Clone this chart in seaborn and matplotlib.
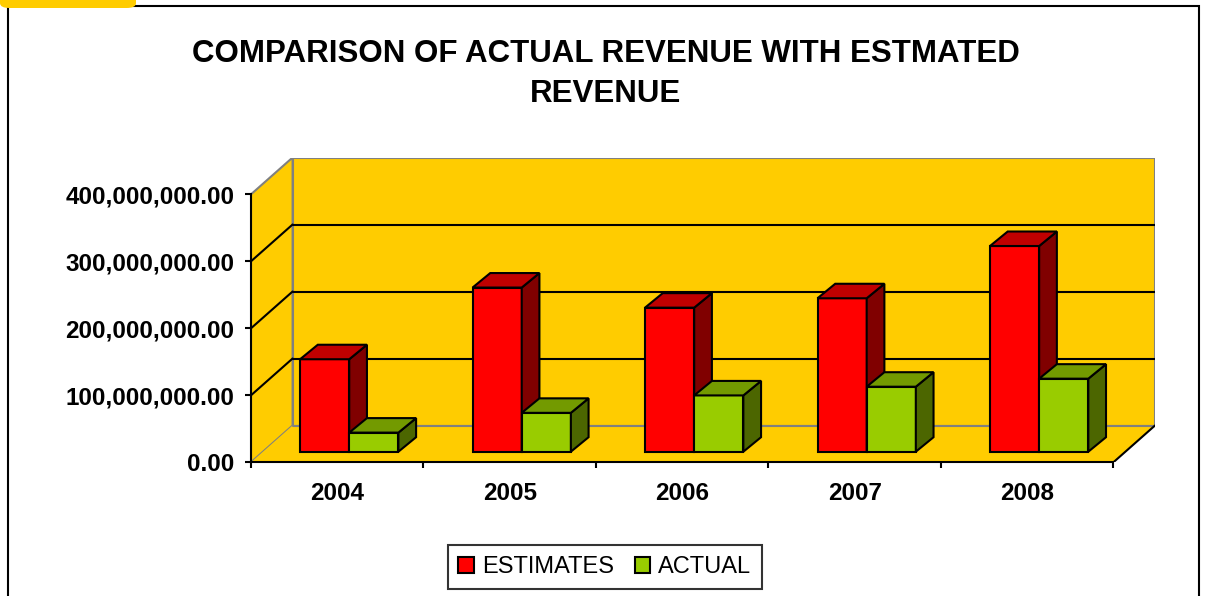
import matplotlib
matplotlib.use("Agg")
import matplotlib.pyplot as plt
from matplotlib.patches import Polygon, Rectangle, FancyBboxPatch
import seaborn as sns
import pandas as pd

# data
years = ["2004", "2005", "2006", "2007", "2008"]
series = ["ESTIMATES", "ACTUAL"]
estimates = [138e6, 245e6, 215e6, 229e6, 307e6]
actual = [28.5e6, 58e6, 84e6, 97e6, 109e6]
yticks = [0, 100e6, 200e6, 300e6, 400e6]

front_colors = {"ESTIMATES": "#FF0000", "ACTUAL": "#99CC00"}
side_colors = {"ESTIMATES": "#800000", "ACTUAL": "#4C6600"}
top_colors = {"ESTIMATES": "#C00000", "ACTUAL": "#739A00"}
wall = "#FFCC00"

df = pd.DataFrame({
    "year": years * 2,
    "series": [series[0]] * len(years) + [series[1]] * len(years),
    "revenue": estimates + actual,
})

sns.set_style("white")
plt.rcParams["font.family"] = ["Liberation Sans", "DejaVu Sans"]
plt.rcParams["text.color"] = "black"
plt.rcParams["xtick.color"] = "black"
plt.rcParams["ytick.color"] = "black"
plt.rcParams["axes.labelcolor"] = "black"

W, H = 1205, 596
fig = plt.figure(figsize=(W / 100, H / 100), dpi=100)

# axes in pixels: front plane of the 3d box + depth
ax_l, ax_r, ax_b, ax_t = 251, 1155, 462.3, 157.5
ax = fig.add_axes([ax_l / W, 1 - ax_b / H, (ax_r - ax_l) / W, (ax_b - ax_t) / H])

px_x = 172.5          # px per category
px_y = 67 / 100e6     # px per unit of revenue
Dx = 41.6 / px_x      # full depth of the box
Dy = 36.8 / px_y

sns.barplot(data=df, x="year", y="revenue", hue="series", order=years,
            hue_order=series, palette=front_colors, width=0.57,
            saturation=1, edgecolor="black", linewidth=1.5,
            errorbar=None, legend=False, ax=ax)
ax.set_xlim(-0.5, 4.5 + Dx)
ax.set_ylim(0, (ax_b - ax_t) / px_y)

# walls and floor
x0, x1 = -0.5, 4.5
ytop = yticks[-1]
ax.add_patch(Polygon([(x0 + Dx, Dy), (x1 + Dx, Dy), (x1 + Dx, ytop + Dy), (x0 + Dx, ytop + Dy)],
                     closed=True, facecolor=wall, edgecolor="#808080", lw=1.5, zorder=0))
ax.add_patch(Polygon([(x0, 0), (x0, ytop), (x0 + Dx, ytop + Dy), (x0 + Dx, Dy)],
                     closed=True, facecolor=wall, edgecolor="#808080", lw=1.5, zorder=0))
ax.add_patch(Polygon([(x0, 0), (x1, 0), (x1 + Dx, Dy), (x0 + Dx, Dy)],
                     closed=True, facecolor=wall, edgecolor="none", zorder=0))
for v in yticks[1:-1]:
    ax.plot([x0 + Dx, x1 + Dx], [v + Dy, v + Dy], color="black", lw=1.5, zorder=1)
    ax.plot([x0, x0 + Dx], [v, v + Dy], color="black", lw=1.5, zorder=1)
ax.plot([x0 + Dx, x1 + Dx], [Dy, Dy], color="#808080", lw=1.5, zorder=1)
ax.plot([x1, x1 + Dx], [0, Dy], color="black", lw=1.5, zorder=1)

# 3d faces on the bars
bdx = 17.7 / px_x
bdy = 14.5 / px_y
shift_x = 12 / px_x
shift_y = 10.6 / px_y
for k, (name, cont) in enumerate(zip(series, ax.containers)):
    for p in cont.patches:
        p.set_x(p.get_x() + shift_x)
        p.set_y(p.get_y() + shift_y)
        p.set_zorder(3 + k)
        bx0 = p.get_x()
        bx1 = bx0 + p.get_width()
        by0 = p.get_y()
        by1 = by0 + p.get_height()
        ax.add_patch(Polygon([(bx1, by0), (bx1 + bdx, by0 + bdy), (bx1 + bdx, by1 + bdy), (bx1, by1)],
                             closed=True, facecolor=side_colors[name], edgecolor="black",
                             lw=1.5, zorder=3 + k))
        ax.add_patch(Polygon([(bx0, by1), (bx1, by1), (bx1 + bdx, by1 + bdy), (bx0 + bdx, by1 + bdy)],
                             closed=True, facecolor=top_colors[name], edgecolor="black",
                             lw=1.5, zorder=3 + k))

# axes lines and ticks
for s in ["top", "right"]:
    ax.spines[s].set_visible(False)
ax.spines["left"].set_bounds(0, ytop)
ax.spines["bottom"].set_bounds(x0, x1)
for s in ["left", "bottom"]:
    ax.spines[s].set_color("black")
    ax.spines[s].set_linewidth(1.5)
    ax.spines[s].set_zorder(2)

ax.set_yticks(yticks)
ax.set_yticklabels([f"{v:,.2f}" for v in yticks], fontsize=17.5, fontweight="bold")
ax.tick_params(axis="y", direction="out", length=4, width=1.5, pad=8, color="black",
               labelcolor="black", left=True)
ax.set_xticks(range(len(years)))
ax.set_xticklabels(years, fontsize=17.5, fontweight="bold")
ax.set_xticks([i - 0.5 for i in range(len(years) + 1)], minor=True)
ax.tick_params(axis="x", which="major", length=0, pad=14, labelcolor="black")
ax.tick_params(axis="x", which="minor", direction="out", length=4, width=1.5, color="black", bottom=True)
ax.set_xlabel("")
ax.set_ylabel("")
ax.patch.set_visible(False)

fig.text(606 / W, 1 - 74 / H, "COMPARISON OF ACTUAL REVENUE WITH ESTMATED\nREVENUE",
         ha="center", va="center", fontsize=22.5, fontweight="bold", linespacing=1.4,
         color="black")

leg = fig.legend(handles=list(ax.containers[0].patches[:1]) + list(ax.containers[1].patches[:1]),
                 labels=series, loc="center", bbox_to_anchor=(605 / W, 1 - 567 / H),
                 ncol=2, fontsize=17, frameon=True, fancybox=False, edgecolor="black",
                 handlelength=0.64, handleheight=0.64, handletextpad=0.35,
                 columnspacing=0.9, borderpad=0.45)
leg.get_frame().set_linewidth(1.5)
for t in leg.get_texts():
    t.set_color("black")

# outer chart frame and the yellow tab
fig.add_artist(Rectangle((8 / W, -0.1), (1199 - 8) / W, 1.1 - 6 / H, transform=fig.transFigure,
                         fill=False, edgecolor="black", lw=1.5))
fig.add_artist(FancyBboxPatch((0, 1 - 8 / H), 136 / W, 0.05, transform=fig.transFigure,
                              boxstyle="round,pad=0,rounding_size=0.008",
                              facecolor=wall, edgecolor="none", zorder=5))

fig.savefig("out.png", dpi=100)
